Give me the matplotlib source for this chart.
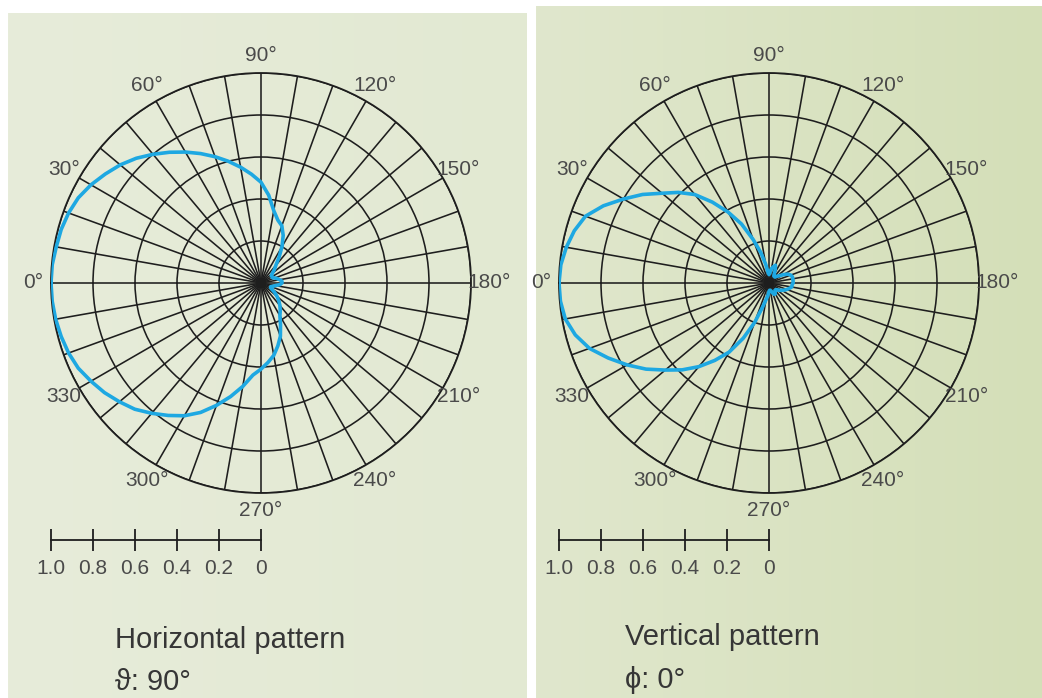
import matplotlib
matplotlib.use("Agg")
import matplotlib.pyplot as plt
import numpy as np
from matplotlib.colors import LinearSegmentedColormap

plt.rcParams['font.family'] = ['Liberation Sans', 'DejaVu Sans']

# pattern angles (deg, 0 at left, clockwise, 90 at top)
angles = list(range(0, 360, 5))

horizontal = [1.00, 0.998, 0.99, 0.985, 0.975, 0.96, 0.935, 0.905, 0.875, 0.84,
              0.80, 0.76, 0.72, 0.68, 0.64, 0.60, 0.56, 0.52, 0.48, 0.42,
              0.35, 0.31, 0.29, 0.25, 0.20, 0.15, 0.11, 0.09, 0.07, 0.06,
              0.06, 0.06, 0.07, 0.08, 0.09, 0.10, 0.10, 0.09, 0.07, 0.06,
              0.05, 0.05, 0.06, 0.08, 0.10, 0.12, 0.14, 0.16, 0.18, 0.22,
              0.27, 0.31, 0.35, 0.38, 0.41, 0.44, 0.50, 0.56, 0.62, 0.68,
              0.73, 0.77, 0.81, 0.85, 0.88, 0.91, 0.935, 0.96, 0.975, 0.985,
              0.993, 0.998]

vertical = [1.00, 0.995, 0.98, 0.96, 0.93, 0.87, 0.80, 0.735, 0.665, 0.61,
            0.55, 0.47, 0.39, 0.31, 0.22, 0.15, 0.09, 0.05, 0.04, 0.05,
            0.07, 0.08, 0.09, 0.07, 0.05, 0.04, 0.04, 0.04, 0.05, 0.06,
            0.08, 0.10, 0.11, 0.115, 0.115, 0.115, 0.115, 0.11, 0.11, 0.10,
            0.09, 0.08, 0.07, 0.06, 0.05, 0.045, 0.045, 0.05, 0.06, 0.06,
            0.05, 0.04, 0.035, 0.035, 0.04, 0.06, 0.08, 0.12, 0.20, 0.29,
            0.38, 0.45, 0.52, 0.585, 0.645, 0.715, 0.78, 0.845, 0.91, 0.955,
            0.985, 0.997]

angle_ticks = list(range(0, 360, 30))
angle_labels = ['0°', '30°', '60°', '90°', '120°', '150°', '180°',
                '210°', '240°', '270°', '300°', '330']
ring_values = [0.2, 0.4, 0.6, 0.8, 1.0]
scale_values = [1.0, 0.8, 0.6, 0.4, 0.2, 0]
scale_labels = ['1.0', '0.8', '0.6', '0.4', '0.2', '0']

titles = ['Horizontal pattern', 'Vertical pattern']
subtitles = ['\u03d1: 90°', '\u03d5: 0°']

W, H = 1042, 698
fig = plt.figure(figsize=(W / 100, H / 100), dpi=100, facecolor='white')

# background panels
bg = fig.add_axes([0, 0, 1, 1], zorder=-5)
bg.axis('off')
left_cmap = LinearSegmentedColormap.from_list('l', ['#e7ecda', '#e2e9d2'])
right_cmap = LinearSegmentedColormap.from_list('r', ['#e0e7cd', '#d4dfb8'])
grad = np.linspace(0, 1, 256).reshape(1, -1)
bg.imshow(grad, cmap=left_cmap, extent=[8, 527, H, 13], aspect='auto')
bg.imshow(grad, cmap=right_cmap, extent=[536, W, H, 6], aspect='auto')
bg.set_xlim(0, W)
bg.set_ylim(H, 0)

R = 210
centers = [(261, 283), (769, 283)]
data = [horizontal, vertical]
title_x = [115, 625]
title_y = [648, 645]
sub_y = [690, 688]
text_col = '#4a4a4a'
grid_col = '#1e1e1e'

for (cx, cy), vals, tx, ty, sy, t, st in zip(centers, data, title_x, title_y, sub_y, titles, subtitles):
    ax = fig.add_axes([(cx - R) / W, (H - cy - R) / H, 2 * R / W, 2 * R / H],
                      projection='polar')
    ax.set_facecolor('none')
    ax.set_theta_zero_location('W')
    ax.set_theta_direction(-1)
    ax.set_ylim(0, 1)
    ax.set_yticks(ring_values)
    ax.set_yticklabels([])
    ax.set_xticks(np.deg2rad(np.arange(0, 360, 10)))
    ax.set_xticklabels([])
    ax.tick_params(length=0)
    ax.grid(True, color=grid_col, lw=1.15)
    ax.spines['polar'].set_color(grid_col)
    ax.spines['polar'].set_linewidth(1.3)

    th = np.deg2rad(angles + [angles[0]])
    rr = vals + [vals[0]]
    ax.plot(th, rr, color='#1ea8e2', lw=2.6, zorder=5, solid_joinstyle='round')

    for a, lab in zip(angle_ticks, angle_labels):
        ax.text(np.deg2rad(a), 1.085, lab, ha='center', va='center',
                fontsize=15, color=text_col, clip_on=False)

    # distance scale bar
    sb = fig.add_axes([(cx - R) / W, (H - 540) / H, R / W, 0.001])
    sb.set_xlim(1.0, 0)
    sb.set_facecolor('none')
    for s in ['top', 'left', 'right']:
        sb.spines[s].set_visible(False)
    sb.spines['bottom'].set_color(grid_col)
    sb.spines['bottom'].set_linewidth(1.3)
    sb.set_yticks([])
    sb.set_xticks(scale_values)
    sb.set_xticklabels(scale_labels, fontsize=15, color=text_col)
    sb.tick_params(axis='x', direction='inout', length=16, width=1.3,
                   color=grid_col, pad=6)

    fig.text(tx / W, 1 - ty / H, t, fontsize=21, color='#363636',
             ha='left', va='baseline')
    fig.text(tx / W, 1 - sy / H, st, fontsize=21, color='#363636',
             ha='left', va='baseline')

fig.savefig('out.png', dpi=100, facecolor='white')
